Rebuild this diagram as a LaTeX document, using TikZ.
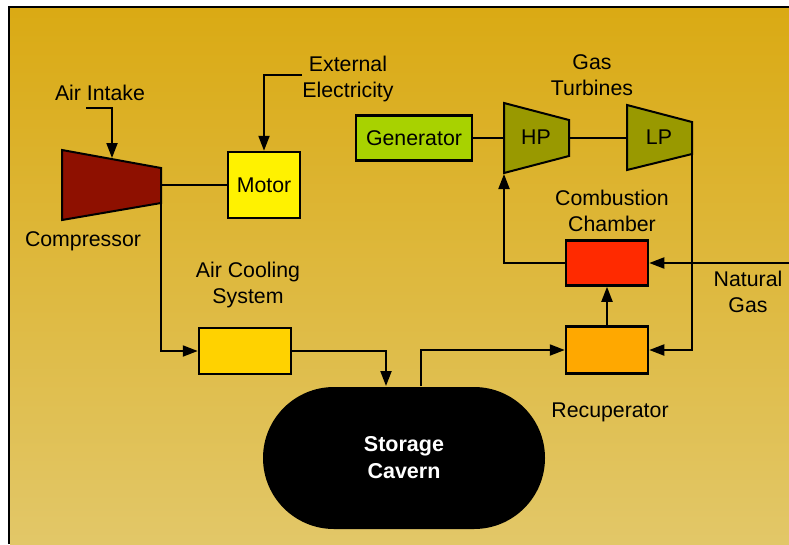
\documentclass[tikz,border=0pt]{standalone}
\usepackage{fontspec}
\setmainfont{Liberation Sans}
\usetikzlibrary{arrows.meta}
\definecolor{bgtop}{HTML}{DAAA14}
\definecolor{bgbot}{HTML}{E2C768}
\definecolor{comp}{HTML}{8E1000}
\definecolor{turb}{HTML}{999900}
\definecolor{genc}{HTML}{A8D200}
\definecolor{coolc}{HTML}{FFD200}
\definecolor{recc}{HTML}{FFA800}
\definecolor{combc}{HTML}{FF2A00}

\begin{document}
\begin{tikzpicture}[x=1pt, y=-1pt, >={Triangle[length=15pt,width=11pt]},
      line width=2pt,
      every node/.style={font=\fontsize{21.3}{26}\selectfont, align=center},
      unit/.style={draw, line width=2.5pt, inner sep=0pt},
      turbine/.style={fill=turb, draw, line width=2pt, line join=miter}]
    \useasboundingbox (0,0) rectangle (789,544);
    \shade[top color=bgtop, bottom color=bgbot] (10,8) rectangle (789,544);
    \draw[line width=2.5pt] (9,544) -- (9,7) -- (789,7);

    % machines
    \filldraw[turbine, fill=comp] (62,150) -- (161,168) -- (161,203) -- (62,220) -- cycle;
    \filldraw[turbine] (504,103) -- (569,120) -- (569,156) -- (504,173) -- cycle;
    \filldraw[turbine] (627,105) -- (692,122) -- (692,154) -- (627,170) -- cycle;
    \node (hp) at (536,137) {HP};
    \node (lp) at (659,137) {LP};
    \coordinate (compin) at (112,158);
    \coordinate (compshaft) at (161,185);
    \coordinate (compout) at (161,203);
    \coordinate (hpin) at (504,138);
    \coordinate (hpout) at (569,138);
    \coordinate (hpbase) at (504,174);
    \coordinate (lpin) at (627,138);
    \coordinate (lpout) at (692,154);

    \node[unit, fill=yellow, minimum width=72pt, minimum height=66pt] (motor) at (264,185) {Motor};
    \node[unit, fill=genc, minimum width=116pt, minimum height=45pt] (gen) at (414,138) {Generator};
    \node[unit, fill=coolc, minimum width=92pt, minimum height=46pt] (cool) at (245,351) {};
    \node[unit, fill=recc, minimum width=82pt, minimum height=47pt] (recup) at (607,350) {};
    \node[unit, fill=combc, minimum width=82pt, minimum height=45pt] (comb) at (607,263) {};
    \node[fill=black, rounded corners=71pt, minimum width=282pt, minimum height=142pt,
      text=white, font=\fontsize{21.5}{27}\selectfont\bfseries] (cav) at (404,458)
      {Storage\\Cavern};

    % labels
    \node (airlbl) at (100,93) {Air Intake};
    \node (elelbl) at (348,79) {External\\Electricity};
    \node (complbl) at (83,241) {Compressor};
    \node (coollbl) at (248,285) {Air Cooling\\System};
    \node (turblbl) at (592,75) {Gas\\Turbines};
    \node (comblbl) at (612,211) {Combustion\\Chamber};
    \node (gaslbl) at (748,292) {Natural\\Gas};
    \node (reclbl) at (610,412) {Recuperator};

    % flows
    \coordinate (airsrc) at (86,108);
    \coordinate (elesrc) at (302,75);
    \coordinate (gassrc) at (789,263);
    \draw[->] (airsrc) -| (compin);
    \draw[->] (elesrc) -| (motor.north);
    \draw (compshaft) -- (motor.west);
    \draw[->] (compout) |- (cool.west);
    \draw[->] (cool.east) -| ([xshift=-18pt]cav.north);
    \draw[->] ([xshift=17pt]cav.north) |- (recup.west);
    \draw[->] (recup.north) -- (comb.south);
    \draw[->] (gassrc) -- (comb.east);
    \draw[->] (comb.west) -| (hpbase);
    \draw[->] (lpout) |- (recup.east);
    \draw (gen.east) -- (hpin);
    \draw (hpout) -- (lpin);
\end{tikzpicture}
\end{document}
